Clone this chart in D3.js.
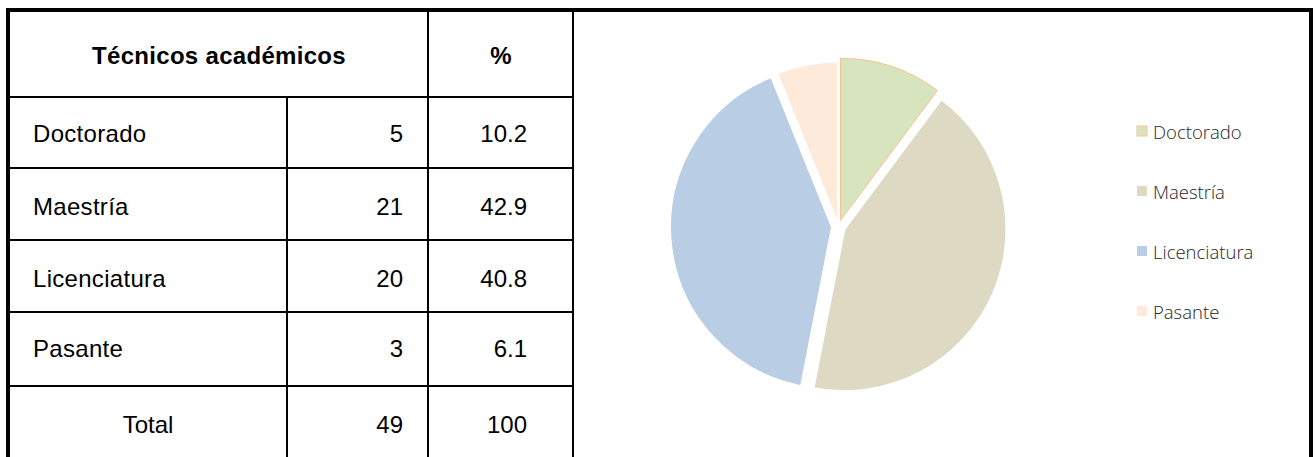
<!DOCTYPE html>
<html><head><meta charset="utf-8">
<script src="https://cdnjs.cloudflare.com/ajax/libs/d3/7.8.5/d3.min.js"></script>
<style>
html,body{margin:0;padding:0;background:#fff;}
svg{display:block;}
</style></head>
<body><svg id="c" width="1315" height="457"></svg>
<script>
const categories = ["Doctorado", "Maestría", "Licenciatura", "Pasante"];
const counts = [5, 21, 20, 3];
const percents = ["10.2", "42.9", "40.8", "6.1"];
const headerTitle = "Técnicos académicos";
const headerPct = "%";
const totalLabel = "Total";
const totalCount = 49;
const totalPct = "100";
const colors = ["#D7E4BD", "#DDD9C3", "#B9CDE5", "#FDEADA"];
const explode = [6.5, 6.5, 6.5, 3];

const svg = d3.select("#c");

// ---- table ----
const colX = [10, 287, 428, 573];
const rowY = [12, 97, 168, 240, 312, 386, 457];
const tFont = "'Liberation Sans', Arial, sans-serif";
const fs = 24;

// outer frame
svg.append("rect").attr("x", 6).attr("y", 8).attr("width", 1307).attr("height", 4).attr("fill", "#000");
svg.append("rect").attr("x", 6).attr("y", 8).attr("width", 4).attr("height", 449).attr("fill", "#000");
svg.append("rect").attr("x", 1309).attr("y", 8).attr("width", 4).attr("height", 449).attr("fill", "#000");

const g = svg.append("g");
g.selectAll("line.h").data(rowY.slice(1, 6)).join("line")
  .attr("x1", 10).attr("x2", 573).attr("y1", d => d).attr("y2", d => d)
  .attr("stroke", "#000").attr("stroke-width", 2);
g.append("line").attr("x1", colX[1]).attr("x2", colX[1]).attr("y1", rowY[1]).attr("y2", 457).attr("stroke", "#000").attr("stroke-width", 2);
g.append("line").attr("x1", colX[2]).attr("x2", colX[2]).attr("y1", 12).attr("y2", 457).attr("stroke", "#000").attr("stroke-width", 2);
g.append("line").attr("x1", colX[3]).attr("x2", colX[3]).attr("y1", 12).attr("y2", 457).attr("stroke", "#000").attr("stroke-width", 2);

g.append("text").attr("x", (colX[0] + colX[2]) / 2).attr("y", 55)
  .attr("text-anchor", "middle").attr("dominant-baseline", "central")
  .attr("font-family", tFont).attr("font-weight", "bold").attr("font-size", fs).attr("letter-spacing", 0.3).text(headerTitle);
g.append("text").attr("x", 501).attr("y", 55)
  .attr("text-anchor", "middle").attr("dominant-baseline", "central")
  .attr("font-family", tFont).attr("font-weight", "bold").attr("font-size", fs).text(headerPct);

const rowTextY = [133, 206, 278, 348];
const rows = categories.map((c, i) => ({ name: c, n: counts[i], p: percents[i], y: rowTextY[i] }));
const rg = g.selectAll("g.row").data(rows).join("g");
rg.append("text").attr("x", 33).attr("y", d => d.y)
  .attr("dominant-baseline", "central").attr("font-family", tFont).attr("font-size", fs).attr("letter-spacing", 0.3).text(d => d.name);
rg.append("text").attr("x", 403).attr("y", d => d.y).attr("text-anchor", "end")
  .attr("dominant-baseline", "central").attr("font-family", tFont).attr("font-size", fs).text(d => d.n);
rg.append("text").attr("x", 527).attr("y", d => d.y).attr("text-anchor", "end")
  .attr("dominant-baseline", "central").attr("font-family", tFont).attr("font-size", fs).text(d => d.p);

const ty = 424;
g.append("text").attr("x", 148).attr("y", ty).attr("text-anchor", "middle")
  .attr("dominant-baseline", "central").attr("font-family", tFont).attr("font-size", fs).text(totalLabel);
g.append("text").attr("x", 403).attr("y", ty).attr("text-anchor", "end")
  .attr("dominant-baseline", "central").attr("font-family", tFont).attr("font-size", fs).text(totalCount);
g.append("text").attr("x", 527).attr("y", ty).attr("text-anchor", "end")
  .attr("dominant-baseline", "central").attr("font-family", tFont).attr("font-size", fs).text(totalPct);

// ---- pie ----
const cx = 838.5, cy = 226.5, r = 162;
const pie = d3.pie().sort(null).value(d => d)(counts);
const arc = d3.arc().innerRadius(0).outerRadius(r);
const pg = svg.append("g").attr("transform", `translate(${cx},${cy})`);
pg.selectAll("path").data(pie).join("path")
  .attr("transform", (d, i) => {
    const a = (d.startAngle + d.endAngle) / 2;
    return `translate(${Math.sin(a) * explode[i]},${-Math.cos(a) * explode[i]})`;
  })
  .attr("d", arc)
  .attr("fill", (d, i) => colors[i])
  .attr("stroke", (d, i) => i === 0 ? "#FAC090" : "#fff")
  .attr("stroke-width", (d, i) => i === 0 ? 1 : 2)
  .attr("stroke-linejoin", "miter");

// ---- legend ----
const lg = svg.append("g").selectAll("g").data(categories).join("g")
  .attr("transform", (d, i) => `translate(1137,${131 + i * 60})`);
lg.append("rect").attr("x", 0).attr("y", -5).attr("width", 10).attr("height", 10)
  .attr("fill", (d, i) => colors[i])
  .attr("stroke", (d, i) => i === 0 ? "#FAC090" : "none").attr("stroke-width", 1);
lg.append("text").attr("x", 16).attr("y", 0).attr("dominant-baseline", "central")
  .attr("font-family", "'Open Sans', sans-serif").attr("font-weight", 300).attr("font-size", 18.5)
  .attr("fill", "#262626").text(d => d);
</script>
</body></html>
